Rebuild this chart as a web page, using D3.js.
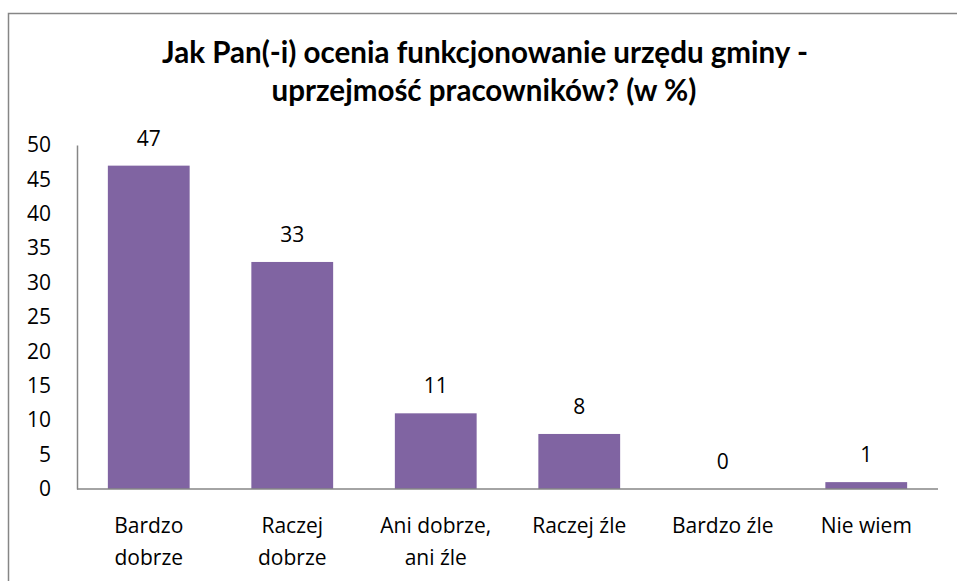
<!DOCTYPE html>
<html>
<head>
<meta charset="utf-8">
<script src="https://cdn.jsdelivr.net/npm/d3@7"></script>
<style>
  html, body { margin: 0; padding: 0; background: #fff; }
  svg { display: block; }
</style>
</head>
<body>
<script>
// Survey answers and their shares (%)
const categories = [
  ["Bardzo", "dobrze"],
  ["Raczej", "dobrze"],
  ["Ani dobrze,", "ani źle"],
  ["Raczej źle"],
  ["Bardzo źle"],
  ["Nie wiem"]
];
const values = [47, 33, 11, 8, 0, 1];
const yTicks = [0, 5, 10, 15, 20, 25, 30, 35, 40, 45, 50];
const titleLines = [
  "Jak Pan(-i) ocenia funkcjonowanie urzędu gminy -",
  "uprzejmość pracowników? (w %)"
];

const W = 957, H = 581;
const margin = { left: 77, right: 19, top: 145, bottom: 92 };
const labelFont = "'Open Sans', 'DejaVu Sans', sans-serif";
const labelSize = 21;
const barColor = "#8064a2";
const axisColor = "#868686";

const svg = d3.select("body").append("svg")
  .attr("width", W).attr("height", H);

// chart frame (continues past the right and bottom edges)
svg.append("path")
  .attr("d", `M8.5,${H + 2} V13.5 H${W + 2}`)
  .attr("fill", "none")
  .attr("stroke", axisColor)
  .attr("stroke-width", 1.5);

const ids = categories.map((c, i) => i);
const x = d3.scaleBand()
  .domain(ids)
  .range([margin.left, W - margin.right])
  .paddingInner(0.43)
  .paddingOuter(0.215);

const y = d3.scaleLinear()
  .domain([0, 50])
  .range([H - margin.bottom, margin.top]);

// title, sized so each line spans its measured width
const titleG = svg.append("g")
  .attr("font-family", "Lato, 'Open Sans', sans-serif")
  .attr("font-weight", "bold")
  .attr("fill", "#000")
  .attr("text-anchor", "middle");
const t1 = titleG.append("text")
  .attr("x", 485).attr("y", 63)
  .attr("font-size", 26)
  .text(titleLines[0]);
const w1 = t1.node().getComputedTextLength();
const titleSize = 26 * 646 / w1;
t1.attr("font-size", titleSize);
titleG.append("text")
  .attr("x", 484).attr("y", 101)
  .attr("font-size", titleSize)
  .text(titleLines[1]);

// y axis
const yAxis = d3.axisLeft(y)
  .tickValues(yTicks)
  .tickSize(0)
  .tickPadding(26);
const gy = svg.append("g")
  .attr("transform", `translate(${margin.left},0)`)
  .call(yAxis);
gy.select(".domain").attr("stroke", axisColor).attr("stroke-width", 1.5);
gy.selectAll(".tick text")
  .attr("font-family", labelFont)
  .attr("font-size", labelSize)
  .attr("fill", "#000");

// bars
svg.append("g").selectAll("rect")
  .data(values)
  .join("rect")
  .attr("x", (d, i) => x(i))
  .attr("width", x.bandwidth())
  .attr("y", d => y(d))
  .attr("height", d => y(0) - y(d))
  .attr("fill", barColor);

// value labels
svg.append("g").selectAll("text")
  .data(values)
  .join("text")
  .attr("x", (d, i) => x(i) + x.bandwidth() / 2)
  .attr("y", d => y(d) - 20)
  .attr("text-anchor", "middle")
  .attr("font-family", labelFont)
  .attr("font-size", labelSize)
  .attr("fill", "#000")
  .text(d => d);

// x axis
const xAxis = d3.axisBottom(x).tickSize(0).tickFormat(() => "");
const gx = svg.append("g")
  .attr("transform", `translate(0,${y(0)})`)
  .call(xAxis);
gx.select(".domain")
  .attr("d", `M${margin.left},0H${W - margin.right}`)
  .attr("stroke", axisColor).attr("stroke-width", 1.5);

// category labels, wrapped over two lines where needed
gx.selectAll(".tick").each(function(i) {
  const t = d3.select(this).select("text")
    .attr("y", null).attr("dy", null)
    .attr("font-family", labelFont)
    .attr("font-size", labelSize)
    .attr("fill", "#000");
  t.selectAll("tspan")
    .data(categories[i])
    .join("tspan")
    .attr("x", 0)
    .attr("y", (d, k) => 44 + k * 32)
    .text(d => d);
});
</script>
</body>
</html>
